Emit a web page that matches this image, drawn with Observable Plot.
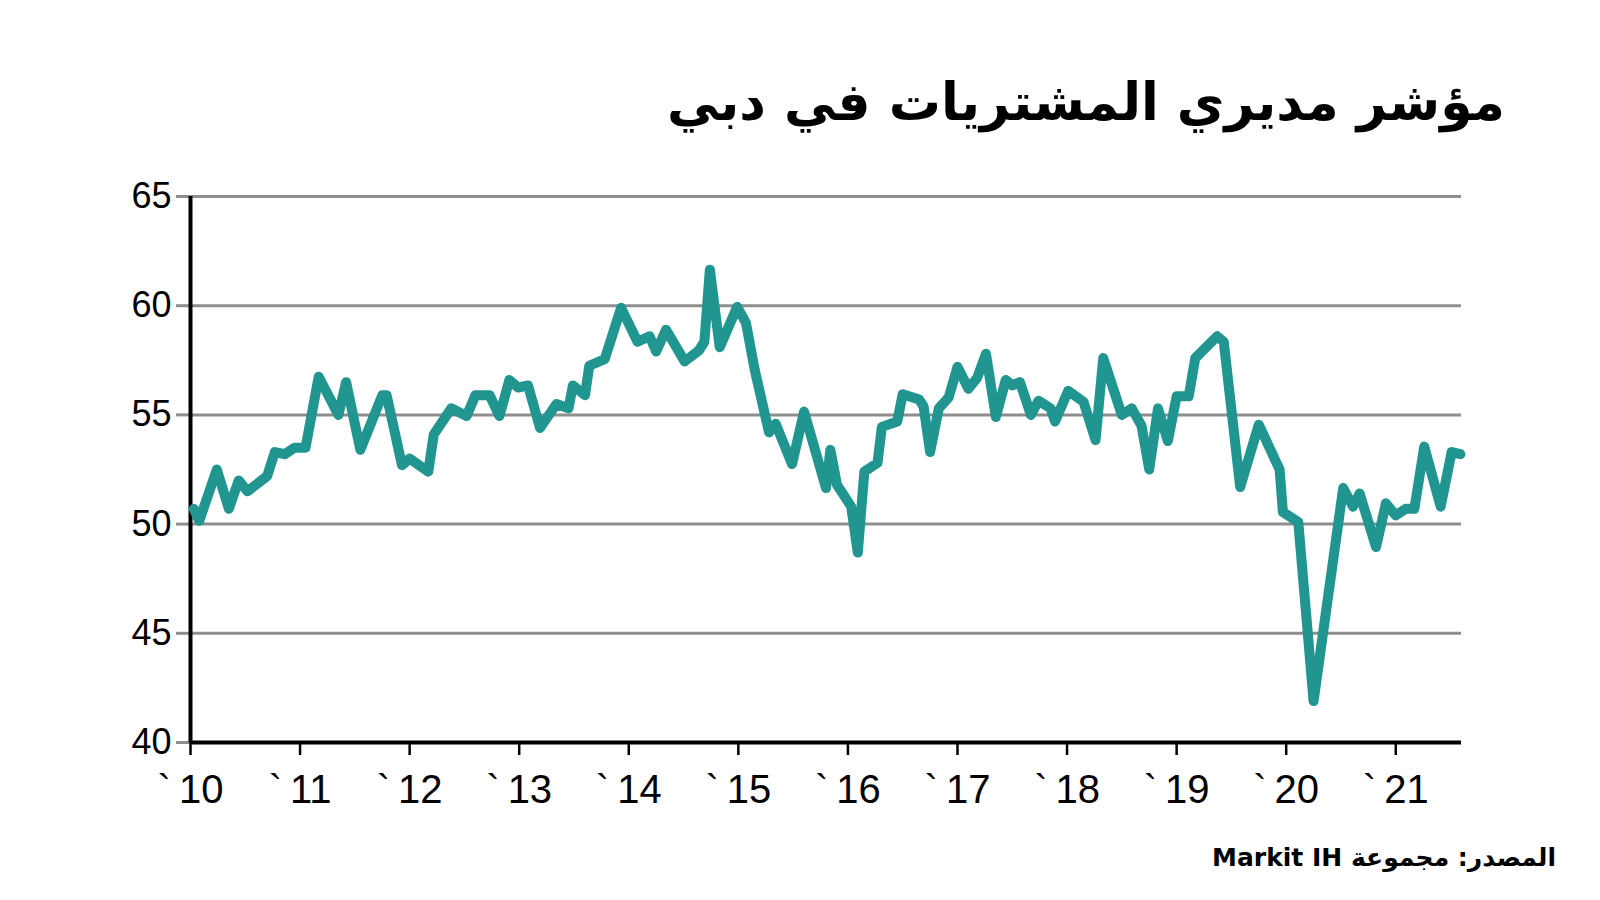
<!DOCTYPE html>
<html>
<head>
<meta charset="utf-8">
<script src="https://cdn.jsdelivr.net/npm/d3@7"></script>
<script src="https://cdn.jsdelivr.net/npm/@observablehq/plot@0.6"></script>
<style>
  html, body { margin: 0; padding: 0; background: #ffffff; }
  body { width: 1600px; height: 900px; position: relative; overflow: hidden; }
  #title {
    position: absolute; right: 95px; top: 68px;
    font-family: "DejaVu Sans", sans-serif; font-weight: bold;
    font-size: 52px; line-height: 68px; direction: rtl; color: #000;
    white-space: nowrap;
  }
  #chart { position: absolute; left: 0; top: 160px; }
  #source {
    position: absolute; right: 44px; top: 842px;
    font-family: "DejaVu Sans", sans-serif; font-weight: bold;
    font-size: 25px; line-height: 32px; direction: rtl; color: #000;
    white-space: nowrap;
  }
</style>
</head>
<body>
<div id="title">مؤشر مديري المشتريات في دبي</div>
<div id="chart"></div>
<div id="source">المصدر: مجموعة Markit IH</div>
<script>
// Decimal year of each reading
const dates = [
  2010.03, 2010.08, 2010.24, 2010.35, 2010.44, 2010.52, 2010.70, 2010.77, 2010.86, 2010.95,
  2011.05, 2011.17, 2011.35, 2011.42, 2011.55, 2011.75, 2011.79, 2011.93,
  2012.00, 2012.17, 2012.22, 2012.38, 2012.52, 2012.60, 2012.73, 2012.82, 2012.91, 2012.99,
  2013.08, 2013.19, 2013.34, 2013.45, 2013.49, 2013.60, 2013.64, 2013.78, 2013.93,
  2014.08, 2014.19, 2014.25, 2014.34, 2014.51, 2014.64, 2014.69, 2014.74, 2014.83, 2014.99,
  2015.07, 2015.15, 2015.28, 2015.34, 2015.49, 2015.60, 2015.80, 2015.84, 2015.90,
  2016.03, 2016.09, 2016.15, 2016.27, 2016.31, 2016.45, 2016.50, 2016.65, 2016.69, 2016.75, 2016.83, 2016.92,
  2017.00, 2017.10, 2017.18, 2017.26, 2017.35, 2017.44, 2017.50, 2017.57, 2017.67, 2017.74, 2017.85, 2017.89,
  2018.01, 2018.15, 2018.26, 2018.33, 2018.50, 2018.59, 2018.68, 2018.75, 2018.83, 2018.92,
  2019.00, 2019.11, 2019.17, 2019.37, 2019.43, 2019.58, 2019.75, 2019.94, 2019.97,
  2020.11, 2020.25, 2020.52, 2020.61, 2020.67, 2020.82, 2020.91,
  2021.00, 2021.09, 2021.17, 2021.26, 2021.41, 2021.51, 2021.59
];
// Dubai PMI values
const pmi = [
  50.7, 50.15, 52.5, 50.7, 52.0, 51.5, 52.2, 53.3, 53.2, 53.5,
  53.5, 56.75, 55.0, 56.5, 53.4, 55.9, 55.9, 52.7,
  53.0, 52.4, 54.1, 55.3, 54.95, 55.9, 55.9, 54.95, 56.6, 56.25,
  56.35, 54.4, 55.5, 55.3, 56.35, 55.9, 57.25, 57.55, 59.9,
  58.35, 58.6, 57.9, 58.9, 57.45, 57.95, 58.35, 61.65, 58.1, 59.95,
  59.2, 57.05, 54.2, 54.6, 52.75, 55.15, 51.65, 53.4, 51.8,
  50.8, 48.7, 52.4, 52.8, 54.45, 54.7, 55.95, 55.7, 55.4, 53.3, 55.3, 55.8,
  57.2, 56.2, 56.7, 57.8, 54.9, 56.6, 56.35, 56.5, 55.0, 55.65, 55.3, 54.7,
  56.1, 55.6, 53.85, 57.6, 55.0, 55.3, 54.5, 52.5, 55.3, 53.8,
  55.85, 55.85, 57.6, 58.6, 58.35, 51.7, 54.55, 52.5, 50.55,
  50.1, 41.9, 51.65, 50.8, 51.4, 48.95, 50.95,
  50.4, 50.7, 50.7, 53.55, 50.8, 53.3, 53.2
];
const yTicks = [40, 45, 50, 55, 60, 65];
const xTicks = [2010, 2011, 2012, 2013, 2014, 2015, 2016, 2017, 2018, 2019, 2020, 2021];
const xTickLabels = ["`\u200910", "`\u200911", "`\u200912", "`\u200913", "`\u200914", "`\u200915",
                     "`\u200916", "`\u200917", "`\u200918", "`\u200919", "`\u200920", "`\u200921"];

const data = dates.map((d, i) => ({date: d, value: pmi[i]}));

const chart = Plot.plot({
  width: 1600,
  height: 660,
  marginLeft: 190,
  marginRight: 139,
  marginTop: 36,
  marginBottom: 78,
  style: {fontFamily: "'Liberation Sans', Arial, sans-serif", color: "#000", background: "transparent"},
  x: {domain: [2010, 2021.6]},
  y: {domain: [40, 65]},
  marks: [
    Plot.gridY(yTicks, {stroke: "#8e8e8e", strokeOpacity: 1, strokeWidth: 3}),
    Plot.axisY(yTicks, {
      tickSize: 14, tickPadding: 5, stroke: "#8e8e8e", strokeWidth: 3,
      fontSize: 36, label: null, tickFormat: d => String(d)
    }),
    Plot.axisX(xTicks, {
      tickSize: 13, tickPadding: 19, stroke: "#000", strokeWidth: 2.5,
      fontSize: 40, label: null, tickFormat: (d, i) => xTickLabels[i]
    }),
    Plot.ruleY([40], {stroke: "#000", strokeWidth: 4}),
    Plot.ruleX([2010], {stroke: "#000", strokeWidth: 4}),
    Plot.line(data, {
      x: "date", y: "value", stroke: "#21958f", strokeWidth: 10,
      strokeLinejoin: "round", strokeLinecap: "round"
    })
  ]
});
document.getElementById("chart").appendChild(chart);
</script>
</body>
</html>
